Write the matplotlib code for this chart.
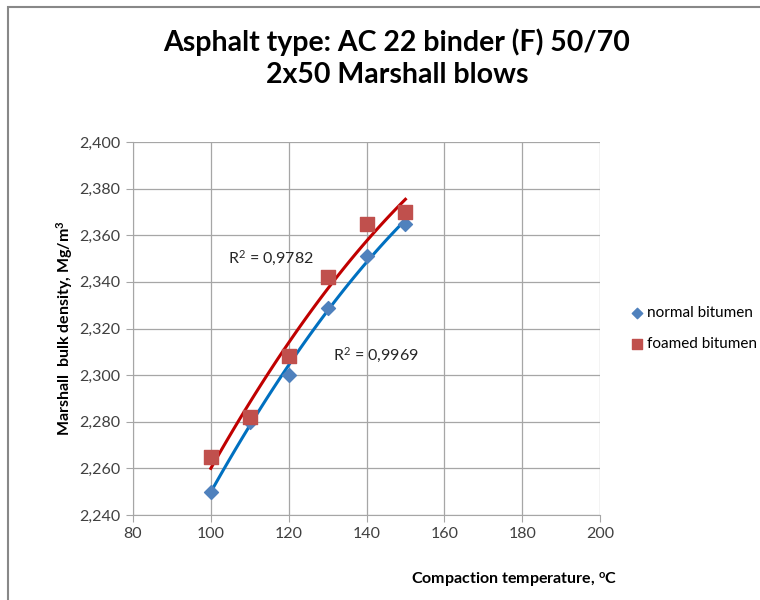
import numpy as np
import matplotlib
matplotlib.use("Agg")
import matplotlib.pyplot as plt
from matplotlib.patches import Rectangle

# data
temps = [100, 110, 120, 130, 140, 150]
normal = [2.250, 2.280, 2.300, 2.329, 2.351, 2.365]
foamed = [2.265, 2.282, 2.308, 2.342, 2.365, 2.370]
r2_normal = "R$^2$ = 0,9969"
r2_foamed = "R$^2$ = 0,9782"
yticks = [2.24, 2.26, 2.28, 2.30, 2.32, 2.34, 2.36, 2.38, 2.40]
xticks = [80, 100, 120, 140, 160, 180, 200]

plt.rcParams['font.family'] = ['Lato', 'DejaVu Sans']
plt.rcParams['mathtext.default'] = 'regular'

fig = plt.figure(figsize=(7.6, 6), dpi=100)
# outer chart border
fig.patches.append(Rectangle((8/760, -0.01), 1.0, 1 - 7/600 + 0.01, transform=fig.transFigure,
                             fill=False, edgecolor="#888888", lw=1.5))

ax = fig.add_axes([133/760, 1-515/600, 467/760, 373/600])
ax.set_xlim(80, 200)
ax.set_ylim(2.24, 2.40)
ax.set_xticks(xticks)
ax.set_yticks(yticks)
ax.set_xticklabels([str(t) for t in xticks])
ax.set_yticklabels(["{:.3f}".format(v).replace(".", ",") for v in yticks])
ax.grid(True, color="#a6a6a6", lw=0.9)
ax.set_axisbelow(True)
for s in ["top", "right"]:
    ax.spines[s].set_visible(False)
for s in ["left", "bottom"]:
    ax.spines[s].set_color("#a6a6a6")
ax.tick_params(direction="out", length=5, color="#a6a6a6", labelsize=11.5, labelcolor="#404040", pad=4)

# 2nd order polynomial trendlines
xs = np.linspace(100, 150, 100)
pn = np.polyfit(temps, normal, 2)
pf = np.polyfit(temps, foamed, 2)
ax.plot(xs, np.polyval(pn, xs), color="#0070C0", lw=2.2, zorder=2)
ax.plot(xs, np.polyval(pf, xs), color="#C00000", lw=2.2, zorder=2)

ax.scatter(temps, normal, marker="D", s=50, color="#4F81BD", zorder=3, label="normal bitumen")
ax.scatter(temps, foamed, marker="s", s=110, color="#C0504D", zorder=3, label="foamed bitumen")

ax.text(104.5, 2.350, r2_foamed, fontsize=11.5, color="#262626", va="center")
ax.text(131.5, 2.3085, r2_normal, fontsize=11.5, color="#262626", va="center")

ax.set_ylabel("Marshall  bulk density, Mg/m$^3$", fontsize=11.5, fontweight="bold", labelpad=3)
fig.text(411/760, 1-581/600, "Compaction temperature, $^o$C", fontsize=11.5, fontweight="bold", va="center")

fig.text(397/760, 1-42/600, "Asphalt type: AC 22 binder (F) 50/70", fontsize=20.5, fontweight="bold",
         ha="center", va="center")
fig.text(397/760, 1-75/600, "2x50 Marshall blows", fontsize=20.5, fontweight="bold", ha="center", va="center")

ax.legend(loc="center left", bbox_to_anchor=(1.0, 0.5), frameon=False, fontsize=11,
          handletextpad=0.15, labelspacing=1.15, borderaxespad=1.6, handlelength=0.9, markerscale=0.75)

fig.savefig("out.png", dpi=100)
